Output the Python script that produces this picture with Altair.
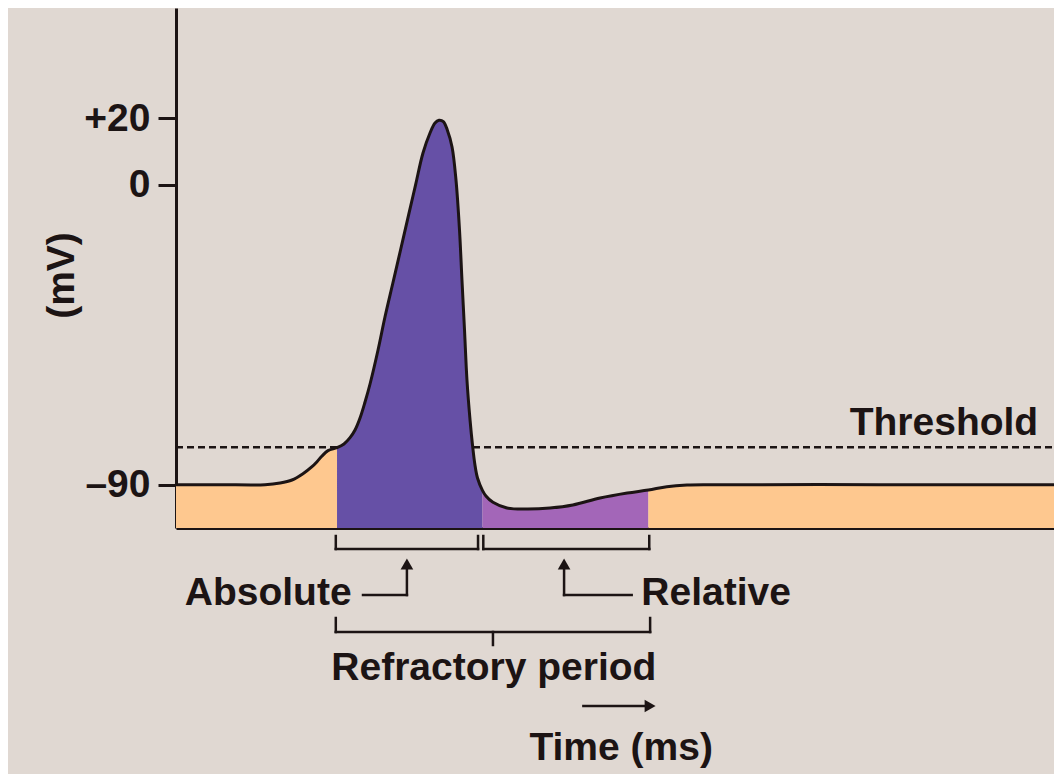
import altair as alt
import pandas as pd

# ---------------- data ----------------
# membrane potential trace: time (ms, arbitrary) and voltage (mV)
T = [0.000, 0.500, 1.014, 1.185, 1.321, 1.446, 1.549, 1.606, 1.663, 1.731, 1.834,
     1.913, 1.982, 2.039, 2.096, 2.153, 2.210, 2.301, 2.380, 2.470, 2.560,
     2.650, 2.730, 2.813, 2.893, 2.950, 2.995, 3.045, 3.090, 3.144, 3.189,
     3.229, 3.257, 3.286, 3.314, 3.349, 3.377, 3.405, 3.434, 3.490, 3.530,
     3.610, 3.770, 4.000, 4.260, 4.520, 4.830, 5.140, 5.380, 5.590, 5.820,
     6.100, 8.000, 10.000]
V = [-90.0, -90.0, -90.0, -89.5, -88.6, -86.7, -84.6, -83.1, -81.4, -79.8, -78.9,
     -77.8, -75.9, -73.6, -70.0, -65.2, -59.8, -49.6, -39.7, -29.5, -19.3,
     -9.0, 0.1, 9.5, 15.5, 18.5, 19.3, 18.9, 16.4, 11.3, 1.4,
     -13.6, -28.6, -43.6, -58.6, -70.6, -78.1, -84.1, -88.0, -91.7, -93.4,
     -95.3, -97.0, -97.3, -97.0, -96.1, -94.0, -92.5, -91.6, -90.6, -90.1,
     -90.0, -90.0, -90.0]

PHASES = ["rest_a", "absolute", "relative", "rest_b"]
PHASE_BOUNDS = [(0.0, 1.834), (1.834, 3.49), (3.49, 5.38), (5.38, 10.0)]
PHASE_COLORS = ["#fec88f", "#6650a6", "#a366b8", "#fec88f"]

THRESHOLD = -78.8
Y_TICKS = [20, 0, -90]
X_DOMAIN = [0, 10]
Y_DOMAIN = [-103, 53]

# annotation geometry (time, mV)
ABS_BRACKET = (1.82, 3.44)
REL_BRACKET = (3.50, 5.39)
BRACKET_V = (-105.4, -109.3)
ABS_ARROW = (2.13, 2.63)      # horizontal start, vertical x
REL_ARROW = (4.42, 5.19)      # vertical x, horizontal end
ARROW_V = (-114.5, -123.1)
ARROW_TIP_V = -113.8
BIG_BRACKET = (1.82, 5.40, 3.61)
BIG_V = (-130.0, -134.2, -138.1)
TIME_ARROW = (4.64, 5.36, 5.40)
TIME_ARROW_V = -156.4

LABELS_RIGHT = [("Absolute", 2.00, -126.1), ("Threshold", 9.82, -75.1)]
LABELS_LEFT = [("Relative", 5.30, -126.1)]
LABELS_CENTER = [("Refractory period", 3.62, -148.6), ("Time (ms)", 5.07, -172.6)]

# ---------------- styling ----------------
BG = "#e0d8d2"
INK = "#1c1414"
FONT = "Liberation Sans"
FS = 39
CURVE = "catmull-rom"

# ---------------- tables ----------------
curve = pd.DataFrame({"t": T, "v": V})

area_rows = []
for ph, (lo, hi) in zip(PHASES, PHASE_BOUNDS):
    for t, v in zip(T, V):
        if lo <= t <= hi:
            area_rows.append({"t": t, "v": v, "phase": ph})
area_df = pd.DataFrame(area_rows)

segs = []
def seg(t1, v1, t2, v2):
    segs.append({"t": t1, "v": v1, "t2": t2, "v2": v2})

for a, b in (ABS_BRACKET, REL_BRACKET):
    seg(a, BRACKET_V[0], a, BRACKET_V[1])
    seg(a, BRACKET_V[1], b, BRACKET_V[1])
    seg(b, BRACKET_V[0], b, BRACKET_V[1])
# arrows under brackets
seg(ABS_ARROW[1], ARROW_V[0], ABS_ARROW[1], ARROW_V[1])
seg(ABS_ARROW[0], ARROW_V[1], ABS_ARROW[1], ARROW_V[1])
seg(REL_ARROW[0], ARROW_V[0], REL_ARROW[0], ARROW_V[1])
seg(REL_ARROW[0], ARROW_V[1], REL_ARROW[1], ARROW_V[1])
# big bracket
seg(BIG_BRACKET[0], BIG_V[0], BIG_BRACKET[0], BIG_V[1])
seg(BIG_BRACKET[1], BIG_V[0], BIG_BRACKET[1], BIG_V[1])
seg(BIG_BRACKET[0], BIG_V[1], BIG_BRACKET[1], BIG_V[1])
seg(BIG_BRACKET[2], BIG_V[1], BIG_BRACKET[2], BIG_V[2])
# time arrow shaft
seg(TIME_ARROW[0], TIME_ARROW_V, TIME_ARROW[1], TIME_ARROW_V)
seg_df = pd.DataFrame(segs)

up_heads = pd.DataFrame({"t": [ABS_ARROW[1], REL_ARROW[0]], "v": [ARROW_TIP_V, ARROW_TIP_V]})
right_heads = pd.DataFrame({"t": [TIME_ARROW[2]], "v": [TIME_ARROW_V]})
thr_df = pd.DataFrame({"t": [X_DOMAIN[0]], "t2": [X_DOMAIN[1]], "v": [THRESHOLD]})

# ---------------- encodings ----------------
xs = alt.Scale(domain=X_DOMAIN, nice=False, zero=False)
ys = alt.Scale(domain=Y_DOMAIN, nice=False, zero=False)
x_axis = alt.Axis(domain=True, domainColor=INK, domainWidth=3, ticks=False,
                  labels=False, grid=False, title=None)
y_axis = alt.Axis(values=Y_TICKS, domain=True, domainColor=INK, domainWidth=3,
                  ticks=True, tickSize=18, tickWidth=3, tickColor=INK, grid=False,
                  labelFont=FONT, labelFontSize=FS, labelFontWeight="bold",
                  labelColor=INK, labelPadding=8, labelBaseline="middle",
                  labelExpr="datum.value > 0 ? '+' + datum.value : (datum.value < 0 ? '\u2013' + (-datum.value) : '0')",
                  title="(mV)", titleFont=FONT, titleFontSize=FS, titleFontWeight="bold",
                  titleColor=INK, titleAngle=270, titleX=-115, titleY=267,
                  titleAlign="center", titleBaseline="middle")
X = alt.X("t:Q", scale=xs, axis=x_axis)
Y = alt.Y("v:Q", scale=ys, axis=y_axis)

threshold = alt.Chart(thr_df).mark_rule(color=INK, strokeWidth=2.5, strokeDash=[7, 4]).encode(
    x=X, x2="t2:Q", y=Y)

areas = alt.Chart(area_df).mark_area(interpolate=CURVE).encode(
    x=X, y=Y, y2=alt.datum(Y_DOMAIN[0]),
    color=alt.Color("phase:N", scale=alt.Scale(domain=PHASES, range=PHASE_COLORS), legend=None))

line = alt.Chart(curve).mark_line(interpolate=CURVE, color=INK, strokeWidth=3,
                                  strokeCap="round", strokeJoin="round").encode(x=X, y=Y)

rules = alt.Chart(seg_df).mark_rule(color=INK, strokeWidth=2.5, strokeCap="square").encode(
    x=X, x2="t2:Q", y=Y, y2="v2:Q")

heads_up = alt.Chart(up_heads).mark_point(shape="triangle-up", filled=True, size=160,
                                          color=INK, opacity=1).encode(x=X, y=Y)
heads_right = alt.Chart(right_heads).mark_point(shape="triangle-right", filled=True, size=160,
                                                color=INK, opacity=1).encode(x=X, y=Y)

def text_layer(items, align):
    df = pd.DataFrame(items, columns=["label", "t", "v"])
    return alt.Chart(df).mark_text(align=align, baseline="alphabetic", font=FONT,
                                   fontSize=FS, fontWeight="bold", color=INK).encode(
        x=X, y=Y, text="label:N")

chart = alt.layer(
    threshold, areas, line, rules, heads_up, heads_right,
    text_layer(LABELS_RIGHT, "right"),
    text_layer(LABELS_LEFT, "left"),
    text_layer(LABELS_CENTER, "center"),
).properties(
    width=878, height=520, background=BG,
    padding={"left": 168, "top": 0, "right": 0, "bottom": 246},
    autosize=alt.AutoSizeParams(type="none"),
).configure_view(stroke=None)

chart.save("out.html", embed_options={"renderer": "svg", "actions": False})
